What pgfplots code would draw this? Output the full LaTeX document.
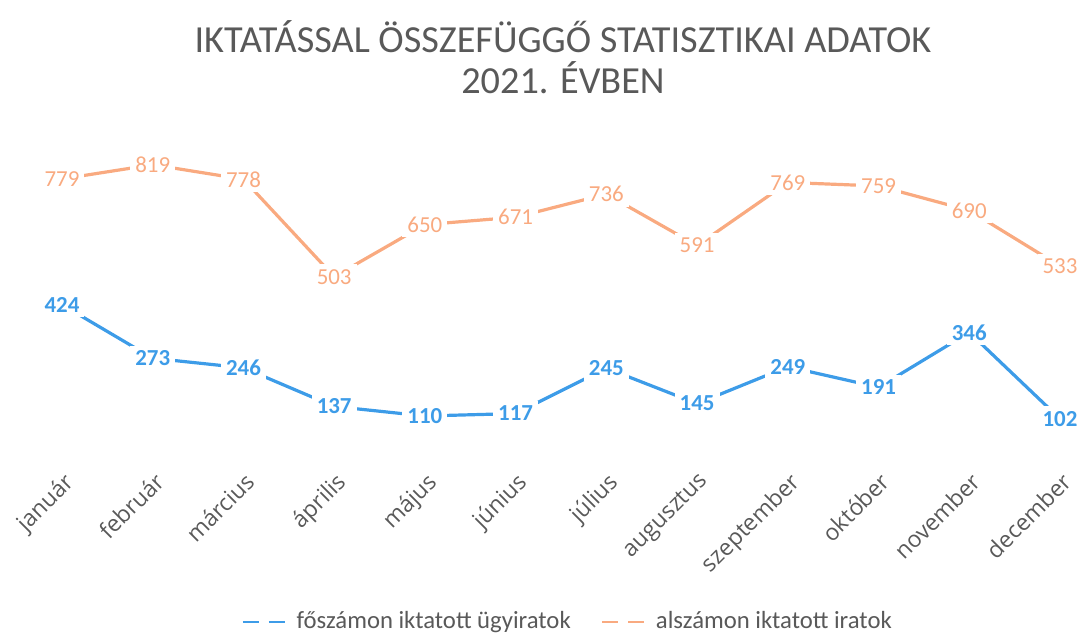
\documentclass[border=0pt]{standalone}
\usepackage{pgfplots}
\pgfplotsset{compat=1.18}
\usepackage{fontspec}
\setmainfont{Carlito}
\newfontfamily\tickfont{Open Sans}
\definecolor{cblue}{HTML}{3D9CE8}
\definecolor{corange}{HTML}{F9AA80}
\definecolor{ctext}{HTML}{595959}
\begin{document}
\begin{tikzpicture}
\useasboundingbox (-31bp,-90bp) rectangle (510.5bp,227.5bp);
\begin{axis}[
  at={(0,0)}, anchor=south west,
  scale only axis, width=499bp, height=159.5bp,
  xmin=0, xmax=11, ymin=0, ymax=900,
  clip=false,
  axis line style={draw=none},
  ymajorticks=false,
  xtick={0,...,11},
  xticklabels={január,február,március,április,május,június,július,augusztus,szeptember,október,november,december},
  xtick style={draw=none},
  xticklabel style={xshift=0.3bp, yshift=-7.8bp, rotate=45, anchor=north east, inner sep=0pt, font=\tickfont\fontsize{11.5}{14}\selectfont, text=ctext},
  /pgf/number format/assume math mode=true,
  nodes near coords,
  every node near coord/.append style={anchor=center, fill=white, inner sep=2.5bp},
  legend style={at={(0.507,-0.523)}, anchor=center, draw=none, legend columns=2, font=\fontsize{12.4}{14}\selectfont, text=ctext, nodes={inner sep=1.2bp}, /tikz/every even column/.append style={column sep=14bp}},
  legend image code/.code={\draw[#1, line width=1.2bp, dash pattern=on 8bp off 5bp] (0bp,0bp) -- (25bp,0bp);},
]
\addplot[cblue, line width=1.6bp, mark=none, nodes near coords style={text=cblue, font=\bfseries\fontsize{11.5}{13}\selectfont}]
  coordinates {(0,424) (1,273) (2,246) (3,137) (4,110) (5,117) (6,245) (7,145) (8,249) (9,191) (10,346) (11,102)};
\addlegendentry{főszámon iktatott ügyiratok}
\addplot[corange, line width=1.6bp, mark=none, nodes near coords style={text=corange, font=\fontsize{11.5}{13}\selectfont}]
  coordinates {(0,779) (1,819) (2,778) (3,503) (4,650) (5,671) (6,736) (7,591) (8,769) (9,759) (10,690) (11,533)};
\addlegendentry{alszámon iktatott iratok}
\end{axis}
\node[text=ctext, font=\fontsize{19.2}{22}\selectfont, align=center] at (250.5bp,209bp) {IKTATÁSSAL ÖSSZEFÜGGŐ STATISZTIKAI ADATOK};
\node[text=ctext, font=\fontsize{19.2}{22}\selectfont, align=center] at (250.5bp,188.5bp) {2021. ÉVBEN};
\end{tikzpicture}
\end{document}
